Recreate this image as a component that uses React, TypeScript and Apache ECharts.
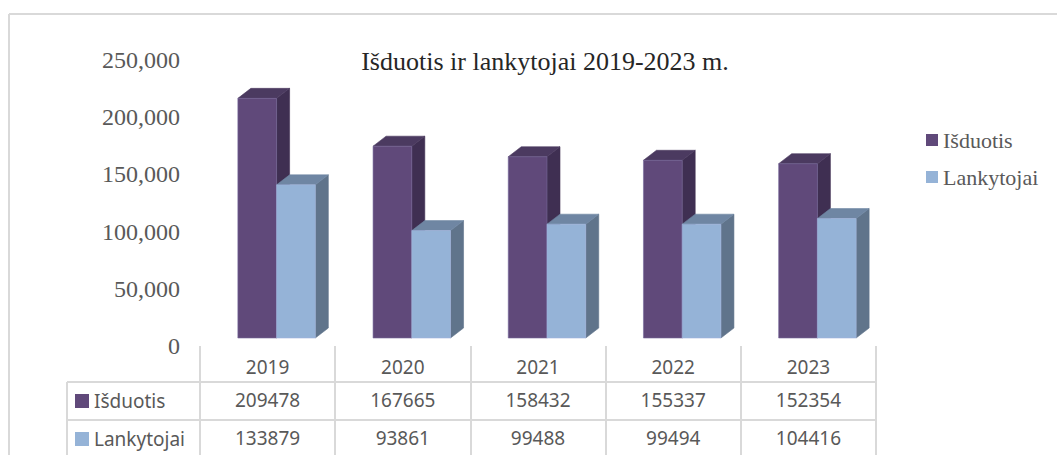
import React, { useEffect, useRef } from "react";
import * as echarts from "echarts";

const title = "Išduotis ir lankytojai 2019-2023 m.";
const years = ["2019", "2020", "2021", "2022", "2023"];
const seriesNames = ["Išduotis", "Lankytojai"];
const isduotis = [209478, 167665, 158432, 155337, 152354];
const lankytojai = [133879, 93861, 99488, 99494, 104416];
const yTicks = { min: 0, max: 250000, interval: 50000 };

const palette = [
  { front: "#60497A", side: "#3F2F52", top: "#4B3A60", edge: "#75689A" },
  { front: "#95B3D7", side: "#60748B", top: "#6F86A3", edge: "#A3B4DE" },
];
const GREY = "#D9D9D9";
const TEXT = "#595959";
const SERIF = '"Liberation Serif", serif';
const SANS = '"Noto Sans", sans-serif';

const DEPTH_X = 13;
const DEPTH_Y = 10;
const FRONT_SHIFT_Y = -8;
const BAR_SHARE = 0.2865;
const CENTER_SHIFT = 9;

const makeBar = (seriesIndex: number) => (params: any, api: any) => {
  const c = palette[seriesIndex];
  const idx = api.value(0);
  const top = api.coord([idx, api.value(1)]);
  const base = api.coord([idx, 0]);
  const w = api.size([1, 0])[0] * BAR_SHARE;
  const x0 = top[0] + CENTER_SHIFT + (seriesIndex - 1) * w;
  const x1 = x0 + w;
  const y0 = top[1] + FRONT_SHIFT_Y;
  const y1 = base[1] + FRONT_SHIFT_Y;
  const poly = (points: number[][], fill: string, stroke: string) => ({
    type: "polygon",
    shape: { points },
    style: { fill, stroke, lineWidth: 0.6 },
  });
  return {
    type: "group",
    children: [
      poly([[x1, y0], [x1 + DEPTH_X, y0 - DEPTH_Y], [x1 + DEPTH_X, y1 - DEPTH_Y], [x1, y1]], c.side, c.side),
      poly([[x0, y0], [x0 + DEPTH_X, y0 - DEPTH_Y], [x1 + DEPTH_X, y0 - DEPTH_Y], [x1, y0]], c.top, c.top),
      poly([[x0, y0], [x1, y0], [x1, y1], [x0, y1]], c.front, c.edge),
    ],
  };
};

const hLine = (x1: number, y1: number, x2: number, y2: number) => ({
  type: "line",
  silent: true,
  shape: { x1, y1, x2, y2 },
  style: { stroke: GREY, lineWidth: 2 },
});

const rowLabel = (name: string, color: string, cy: number) => [
  { type: "rect", silent: true, shape: { x: 75, y: cy - 7, width: 14, height: 14 }, style: { fill: color } },
  {
    type: "text",
    silent: true,
    x: 94,
    y: cy,
    style: { text: name, fill: TEXT, font: `19px ${SANS}`, textVerticalAlign: "middle" },
  },
];

const valueAxis = (data: number[], offset: number) => ({
  type: "category",
  data: data.map(String),
  position: "bottom",
  offset,
  axisLine: { show: false },
  axisTick: { show: false },
  axisLabel: { color: TEXT, fontFamily: SANS, fontSize: 19, margin: 11, interval: 0 },
});

export default function App() {
  const ref = useRef<HTMLDivElement>(null);
  useEffect(() => {
    const chart = echarts.init(ref.current!, undefined, { renderer: "svg" });
    chart.setOption({
      animation: false,
      backgroundColor: "#ffffff",
      title: {
        text: title,
        left: 540,
        top: 43,
        textAlign: "center",
        textStyle: { fontFamily: SERIF, fontSize: 26, fontWeight: "normal", color: "#262626" },
      },
      legend: {
        orient: "vertical",
        left: 921,
        top: 124,
        itemWidth: 12,
        itemHeight: 12,
        itemGap: 15,
        icon: "rect",
        data: seriesNames,
        textStyle: { fontFamily: SERIF, fontSize: 22, color: TEXT },
      },
      grid: { left: 200, top: 60, width: 676, height: 286 },
      yAxis: {
        type: "value",
        ...yTicks,
        axisLine: { show: false },
        axisTick: { show: false },
        splitLine: { show: false },
        axisLabel: { color: TEXT, fontFamily: SERIF, fontSize: 24, margin: 20 },
      },
      xAxis: [
        {
          type: "category",
          data: years,
          axisLine: { show: false },
          axisTick: { show: true, length: 109, lineStyle: { color: GREY, width: 2 } },
          axisLabel: { color: TEXT, fontFamily: SANS, fontSize: 19, margin: 11, interval: 0 },
        },
        valueAxis(isduotis, 33),
        valueAxis(lankytojai, 71),
      ],
      series: [isduotis, lankytojai].map((values, i) => ({
        name: seriesNames[i],
        type: "custom",
        xAxisIndex: 0,
        clip: false,
        itemStyle: { color: palette[i].front },
        renderItem: makeBar(i),
        encode: { x: 0, y: 1 },
        data: values.map((v, k) => [k, v]),
      })),
      graphic: [
        hLine(9, 14, 1057, 14),
        hLine(9, 14, 9, 455),
        hLine(67, 382, 876, 382),
        hLine(67, 420, 876, 420),
        hLine(67, 382, 67, 455),
        ...rowLabel(seriesNames[0], palette[0].front, 401),
        ...rowLabel(seriesNames[1], palette[1].front, 439),
      ],
    });
    return () => chart.dispose();
  }, []);
  return <div ref={ref} style={{ position: "fixed", left: 0, top: 0, width: 1057, height: 455 }} />;
}
